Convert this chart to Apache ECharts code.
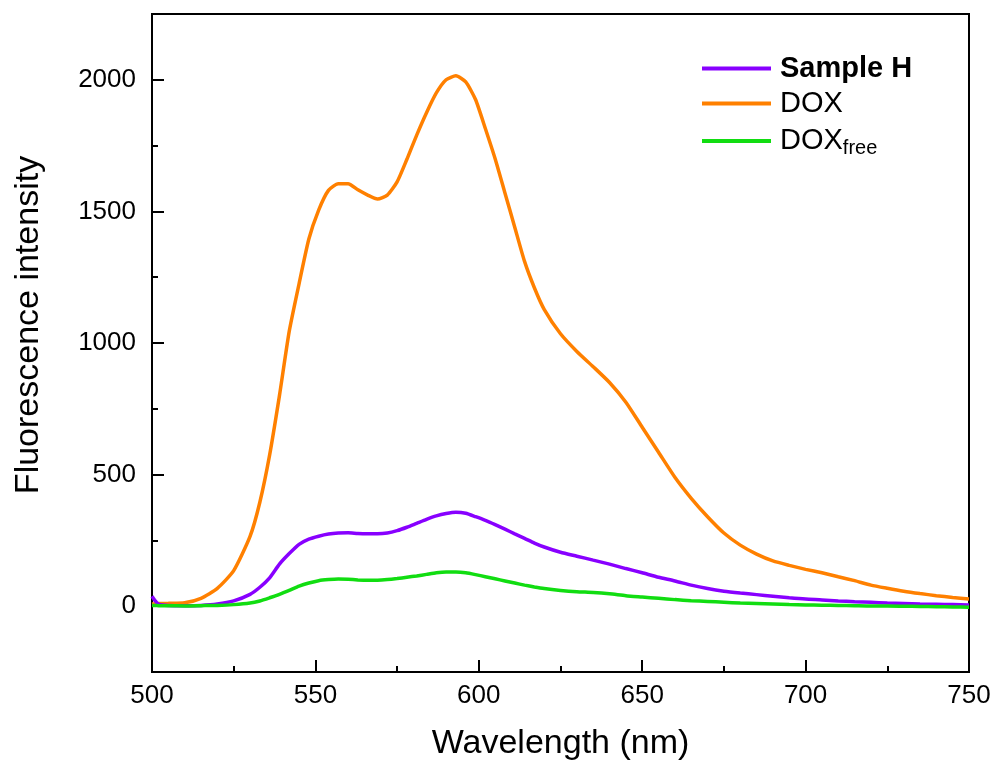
<!DOCTYPE html>
<html><head><meta charset="utf-8">
<script src="https://cdn.jsdelivr.net/npm/echarts@6/dist/echarts.min.js"></script>
<style>html,body{margin:0;padding:0;background:#fff}#c{width:995px;height:767px}</style>
</head><body><div id="c"></div>
<script>
const wavelengths = [500,501,502,505,510,515,520,525,530,
533,536,539,542,545,548,551,554,557,560,563,566,569,572,575,578,581,584,587,590,593,596,599,602,605,608,611,614,617,620,
625,630,635,640,645,650,655,660,665,670,675,680,685,690,695,700,705,710,715,720,725,730,735,740,745,750];
const dox = [8,9,10,11,13,30,68,135,265,
395,575,800,1045,1225,1395,1505,1580,1605,1605,1582,1562,1547,1562,1612,1698,1790,1875,1950,2000,2015,1992,1925,1815,1700,1570,1440,1310,1210,1128,
1035,968,910,850,775,680,585,490,410,340,278,232,198,172,155,140,127,112,97,80,68,57,48,40,33,27];
const sampleH = [38,20,8,3,2,3,8,20,45,
72,108,160,200,235,255,266,274,278,279,276,275,275,278,287,300,315,330,343,352,357,353,340,326,310,293,275,258,240,225,
205,190,175,160,143,127,110,96,80,67,57,50,44,38,32,27,24,20,17,15,12,10,8,7,6,5];
const doxFree = [3,3,2,2,1,2,3,6,12,
20,32,45,60,76,88,97,101,103,102,100,99,99,101,105,110,115,121,127,130,130,127,120,112,104,96,88,80,73,67,
60,55,52,47,40,35,30,25,21,18,15,12,10,8,6,5,4,3,2,1,1,0,-1,-2,-3,-4];
const seriesNames = ['Sample H','DOX','DOXfree'];
const xMin = 500, xMax = 750, xStep = 50;
const yMin = -250, yMax = 2250, yMinorStep = 250, yMajorStep = 500;

const pairs = arr => wavelengths.map((w,i)=>[w,arr[i]]);
const FONT = 'Arial, "Liberation Sans", sans-serif';
const chart = echarts.init(document.getElementById('c'));
chart.setOption({
  animation:false,
  backgroundColor:'#fff',
  grid:{left:152,right:26,top:14,bottom:95,show:true,borderColor:'#000',borderWidth:2,backgroundColor:'transparent'},
  legend:{
    orient:'vertical', left:697, top:49, itemWidth:69, itemHeight:4, itemGap:6, icon:'rect',
    data:seriesNames,
    formatter:function(name){
      if(name==='Sample H') return '{b|Sample H}';
      if(name==='DOXfree') return '{n|DOX}{s|free}';
      return '{n|'+name+'}';
    },
    textStyle:{
      fontFamily:FONT, color:'#000',
      rich:{
        b:{fontSize:29,fontWeight:'bold',fontFamily:FONT,color:'#000',lineHeight:32,padding:[0,0,0,4]},
        n:{fontSize:29,fontFamily:FONT,color:'#000',lineHeight:32,padding:[0,0,0,4]},
        s:{fontSize:20,fontFamily:FONT,color:'#000',lineHeight:32,padding:[14,0,0,0]}
      }
    }
  },
  xAxis:{
    type:'value', min:xMin, max:xMax, interval:xStep,
    name:'Wavelength (nm)', nameLocation:'middle', nameGap:55,
    nameTextStyle:{fontSize:34,fontFamily:FONT,color:'#000'},
    axisLine:{onZero:false,lineStyle:{color:'#000',width:2}},
    axisTick:{inside:true,length:12,lineStyle:{color:'#000',width:2}},
    minorTick:{show:true,splitNumber:2,length:6,lineStyle:{color:'#000',width:2}},
    axisLabel:{fontSize:26,fontFamily:FONT,color:'#000',margin:11},
    splitLine:{show:false}
  },
  yAxis:[{
    type:'value', min:yMin, max:yMax, interval:yMinorStep,
    name:'Fluorescence intensity', nameLocation:'middle', nameGap:106,
    nameTextStyle:{fontSize:34,fontFamily:FONT,color:'#000',padding:[0,0,0,36]},
    axisLine:{onZero:false,lineStyle:{color:'#000',width:2}},
    axisTick:{inside:true,length:6,lineStyle:{color:'#000',width:2}},
    axisLabel:{fontSize:26,fontFamily:FONT,color:'#000',margin:16,
      formatter:v=> (v % yMajorStep === 0) ? String(v) : ''},
    splitLine:{show:false}
  },{
    type:'value', min:yMin, max:yMax, splitNumber:5, position:'left',
    axisLine:{show:false,onZero:false},
    axisTick:{inside:true,length:12,lineStyle:{color:'#000',width:2}},
    axisLabel:{show:false},
    splitLine:{show:false}
  }],
  series:[
    {name:'DOX',type:'line',data:pairs(dox),showSymbol:false,symbol:'none',smooth:0.2,lineStyle:{color:'#ff8000',width:3.5},itemStyle:{color:'#ff8000'}},
    {name:'Sample H',type:'line',data:pairs(sampleH),showSymbol:false,symbol:'none',smooth:0.2,lineStyle:{color:'#8800ff',width:3.5},itemStyle:{color:'#8800ff'}},
    {name:'DOXfree',type:'line',data:pairs(doxFree),showSymbol:false,symbol:'none',smooth:0.2,lineStyle:{color:'#11dd11',width:3.5},itemStyle:{color:'#11dd11'}}
  ]
});
</script></body></html>
